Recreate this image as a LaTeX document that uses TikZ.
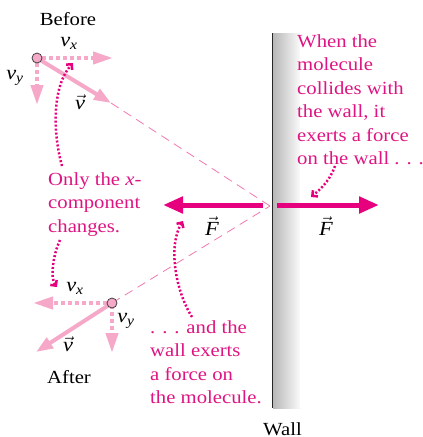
\documentclass[tikz,border=0pt]{standalone}
\usepackage{fontspec}
\setmainfont{Liberation Serif}[FakeStretch=1.12]
\usetikzlibrary{arrows.meta}
\definecolor{mag}{RGB}{230,0,126}
\definecolor{tmag}{RGB}{222,20,130}
\definecolor{lpink}{RGB}{245,168,200}
\definecolor{dpink}{RGB}{240,120,175}
\newcommand{\vv}{\textit{v}}
\begin{document}
\begin{tikzpicture}[x=1pt,y=-1pt,
  lbl/.style={font=\fontsize{18.5}{23.5}\selectfont, inner sep=0},
  sym/.style={font=\fontsize{20}{23.5}\selectfont, inner sep=0},
  note/.style={lbl, text=tmag, align=left, anchor=north west},
  vecarrow/.style={lpink, line width=4pt, -{Triangle[length=17pt,width=12pt]}},
  comp/.style={lpink, line width=4pt, dash pattern=on 4pt off 3pt, -{Triangle[length=20pt,width=12pt]}},
  force/.style={mag, line width=5pt, -{Triangle[length=20pt,width=16pt]}},
  traj/.style={dpink, line width=0.8pt, dash pattern=on 9pt off 6pt},
  hint/.style={mag, line width=2.5pt, dash pattern=on 2pt off 2pt, -{Straight Barb[length=4pt,width=8pt]}},
  mol/.style={circle, draw=black!75, fill=lpink, minimum size=10pt, inner sep=0pt, line width=0.8pt}
]
\useasboundingbox (0,0) rectangle (423,437);
% wall
\shade[left color=black!28, right color=white] (273,33) rectangle (302,408);
\fill[white] (300,33) rectangle (304,408);
\draw[black!85, line width=1pt] (272.5,33) -- (272.5,408);
\coordinate (hit) at (270,206);
\node[lbl, anchor=base west, text depth=0pt] (wall) at (263,435) {Wall};

% before
\coordinate (m1) at (37,58);
\coordinate (v1) at (111,103);
\draw[traj] (v1) -- (hit);
\coordinate (vx1) at (113,58);
\coordinate (vy1) at (37,105);
\draw[comp] ([xshift=5pt]m1) -- (vx1);
\draw[comp] ([yshift=-5pt]m1) -- (vy1);
\draw[vecarrow] (m1) -- (v1);
\node[mol] (mol1) at (m1) {};
\node[lbl, text depth=0pt] (before) at (68,19) {Before};
\node[sym] (lvx1) at (69,43) {\vv\textsubscript{\textit{x}}};
\node[sym] (lvy1) at (15,78) {\vv\textsubscript{\textit{y}}};
\node[sym] (lv1) at (80,102) {$\vec{\vv}$};

% after
\coordinate (m2) at (112,303);
\draw[traj] (m2) -- (hit);
\coordinate (v2) at (36,352);
\coordinate (vx2) at (33,303);
\coordinate (vy2) at (112,353);
\draw[comp] ([xshift=-5pt]m2) -- (vx2);
\draw[comp] ([yshift=5pt]m2) -- (vy2);
\draw[vecarrow] (m2) -- (v2);
\node[mol] (mol2) at (m2) {};
\node[lbl] (after) at (69,377) {After};
\node[sym] (lvx2) at (75,288) {\vv\textsubscript{\textit{x}}};
\node[sym] (lvy2) at (126,321) {\vv\textsubscript{\textit{y}}};
\node[sym] (lv2) at (68,344) {$\vec{\vv}$};

% forces
\coordinate (fl0) at (263,205);
\coordinate (fl1) at (163,205);
\coordinate (fr0) at (277,205);
\coordinate (fr1) at (379,205);
\draw[force] (fl0) -- (fl1);
\draw[force] (fr0) -- (fr1);
\node[sym] (lf1) at (212,226) {$\vec{\textit{F}}$};
\node[sym] (lf2) at (326,226) {$\vec{\textit{F}}$};

% notes
\node[note] (n1) at (297,34) {When the\\molecule\\collides with\\the wall, it\\exerts a force\\on the wall . . .};
\node[note] (n2) at (48,172) {Only the \textit{x}-\\component\\changes.};
\node[note] (n3) at (150,320) {. . . and the\\wall exerts\\a force on\\the molecule.};

% hints
\coordinate (h1a) at (62,166);
\coordinate (h1b) at (73,63);
\draw[hint] (h1a) .. controls (52,130) and (53,85) .. (h1b);
\coordinate (h2a) at (60,240);
\coordinate (h2b) at (57,287);
\draw[hint] (h2a) .. controls (53,255) and (50,278) .. (h2b);
\coordinate (h3a) at (192,317);
\coordinate (h3b) at (183,221);
\draw[hint] (h3a) .. controls (175,290) and (168,245) .. (h3b);
\coordinate (h4a) at (335,166);
\coordinate (h4b) at (311,197);
\draw[hint] (h4a) .. controls (330,180) and (322,188) .. (h4b);
\end{tikzpicture}
\end{document}
